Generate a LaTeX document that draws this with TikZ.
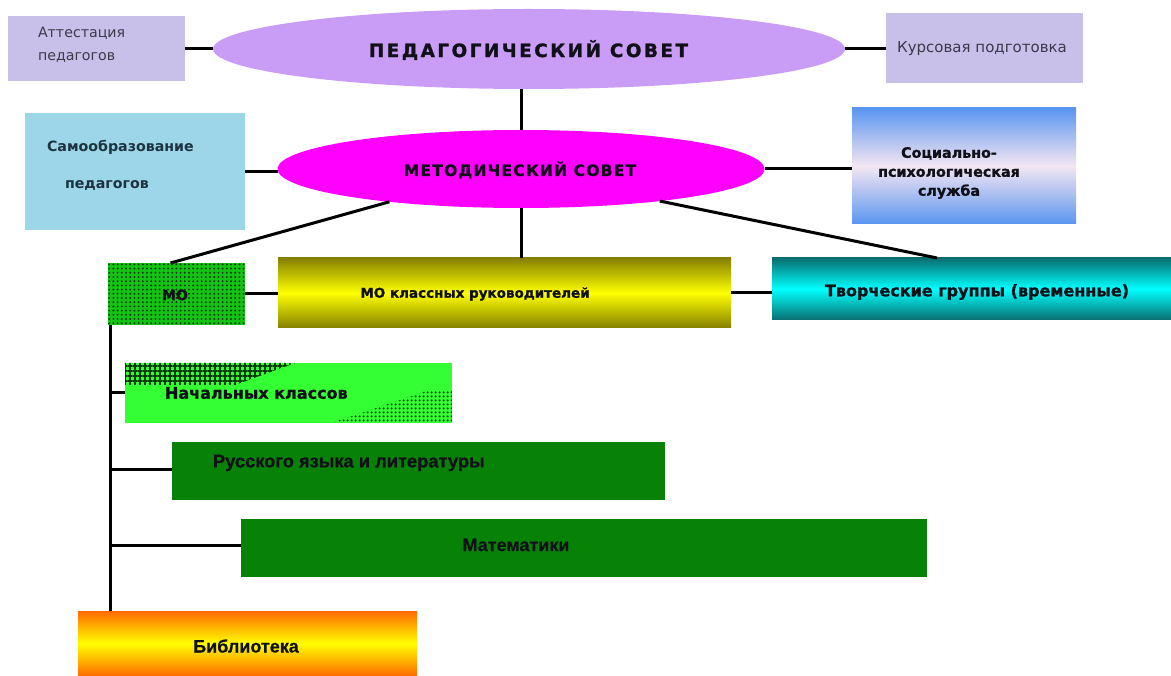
\documentclass[tikz,border=0pt]{standalone}
\usepackage{fontspec}
\setmainfont{DejaVu Sans}
\newfontfamily\libfont[BoldFeatures={FakeBold=0.6}]{Liberation Sans}
\newfontfamily\hvy[BoldFeatures={FakeBold=1.2}]{DejaVu Sans}
\newfontfamily\pedfont[LetterSpace=14,BoldFeatures={FakeBold=1.5}]{DejaVu Sans}
\newfontfamily\metfont[LetterSpace=8,BoldFeatures={FakeBold=1.5}]{DejaVu Sans}
\usetikzlibrary{shapes.geometric,patterns,patterns.meta,calc}
\definecolor{lav}{HTML}{C8C0E8}
\definecolor{pedc}{HTML}{C99CF6}
\definecolor{magc}{HTML}{FF00FF}
\definecolor{samoc}{HTML}{9DD6E8}
\definecolor{socblue}{HTML}{5A95F0}
\definecolor{socmid}{HTML}{F4E6F2}
\definecolor{oliv}{HTML}{858000}
\definecolor{yell}{HTML}{FFFF00}
\definecolor{tealc}{HTML}{0A6E70}
\definecolor{cyanc}{HTML}{00FFFF}
\definecolor{mog}{HTML}{14C414}
\definecolor{mod}{HTML}{063A06}
\definecolor{nachg}{HTML}{33FF33}
\definecolor{dg}{HTML}{078207}
\definecolor{orng}{HTML}{FF6A00}
\definecolor{txtgray}{HTML}{3A3A4A}
\definecolor{samot}{HTML}{1C3340}
\definecolor{ink}{HTML}{101018}
\begin{document}
\begin{tikzpicture}[x=1pt,y=-1pt,
  conn/.style={line width=3pt,black},
  box/.style={rectangle,inner sep=0pt,outer sep=0pt,draw=none},
  ell/.style={ellipse,inner sep=0pt,outer sep=0pt,draw=none},
  txt/.style={inner sep=0pt,outer sep=0pt,text=ink},
  dv/.style={font=\hvy\bfseries\fontsize{#1}{#1}\selectfont},
  lb/.style={font=\libfont\bfseries\fontsize{#1}{#1}\selectfont},
]
\useasboundingbox (0,0) rectangle (1171,676);

% ---------- shapes ----------
\node[box,fill=lav,minimum width=177pt,minimum height=65pt] (att) at (96,48.5) {};
\node[ell,fill=pedc,minimum width=632pt,minimum height=80pt] (ped) at (529,49) {};
\node[box,fill=lav,minimum width=197pt,minimum height=70pt] (kurs) at (984.5,48) {};

\node[box,fill=samoc,minimum width=220pt,minimum height=117pt] (samo) at (135,171.5) {};
\node[ell,fill=magc,minimum width=487pt,minimum height=78pt] (met) at (521,169) {};
\node[box,top color=socblue,bottom color=socblue,middle color=socmid,minimum width=224pt,minimum height=116pt] (soc) at (964,166) {};

\node[box,fill=mog,minimum width=137pt,minimum height=62pt,
      postaction={pattern={Dots[distance=4.2pt,radius=1.1pt]},pattern color=mod}] (mo) at (176.5,294) {};
\node[box,top color=oliv,bottom color=oliv,middle color=yell,minimum width=453pt,minimum height=70pt] (mocl) at (504.5,293) {};
\node[box,top color=tealc,bottom color=tealc,middle color=cyanc,minimum width=399pt,minimum height=62pt] (tvor) at (971.5,289) {};

\node[box,fill=nachg,minimum width=327pt,minimum height=60pt] (nach) at (288.5,393) {};
\fill[pattern={Hatch[distance=5pt,line width=1.6pt]},pattern color=mod]
  (nach.north west) -- ++(170pt,0pt) -- ++(-60pt,-22pt) -- ++(-110pt,0pt) -- cycle;
\fill[pattern={Dots[distance=4pt,radius=1.3pt]},pattern color=mod]
  (nach.south east) -- ++(0pt,32pt) -- ++(-26pt,0pt) -- ++(-95pt,-32pt) -- cycle;

\node[box,fill=dg,minimum width=493pt,minimum height=58pt] (rus) at (418.5,471) {};
\node[box,fill=dg,minimum width=686pt,minimum height=58pt] (mat) at (584,548) {};
\node[box,top color=orng,bottom color=orng,middle color=yell,minimum width=339pt,minimum height=65pt] (lib) at (247.5,643.5) {};

% ---------- connectors ----------
\draw[conn] (att.east) -- (att.east -| ped.west);
\draw[conn] (ped.east) -- (ped.east -| kurs.west);
\draw[conn] (met.north) -- (met.north |- ped.south);
\draw[conn] (samo.east) -- (samo.east -| met.west);
\draw[conn] (met.east) -- (met.east -| soc.west);
\draw[conn] (met.194) -- ($(mo.north)+(-6pt,0pt)$);
\draw[conn] (met.south) -- (met.south |- mocl.north);
\draw[conn] (met.347) -- ($(tvor.north west)+(165pt,0pt)$);
\draw[conn] (mo.east) -- (mo.east -| mocl.west);
\draw[conn] (mocl.east) -- (mocl.east -| tvor.west);
\coordinate (ttop) at ($(mo.south west)+(2pt,0pt)$);
\coordinate (tbot) at (ttop |- lib.north);
\coordinate (rusb) at ($(rus.west)+(0pt,2pt)$);
\coordinate (matb) at ($(mat.west)+(0pt,3pt)$);
\draw[conn] (ttop) -- (tbot);
\draw[conn] (ttop |- nach.west) -- (nach.west);
\draw[conn] (ttop |- rusb) -- (rusb);
\draw[conn] (ttop |- matb) -- (matb);

% ---------- texts ----------
\node[txt,text=txtgray,anchor=west,align=left,font=\fontsize{14.2}{23}\selectfont] (attT) at (38,44.5) {Аттестация\\педагогов};
\node[txt,font=\pedfont\bfseries\fontsize{18.3}{20}\selectfont] (pedT) at (528.5,50) {ПЕДАГОГИЧЕСКИЙ СОВЕТ};
\node[txt,text=txtgray,font=\fontsize{15}{18}\selectfont] (kursT) at (982,49) {Курсовая подготовка};

\node[txt,text=samot,anchor=west,align=left,font=\bfseries\fontsize{14.2}{37}\selectfont] (samoT) at (47,165) {Самообразование\\\hspace*{18pt}педагогов};
\node[txt,font=\metfont\bfseries\fontsize{15.5}{18}\selectfont] (metT) at (520,170) {МЕТОДИЧЕСКИЙ СОВЕТ};
\node[txt,align=center,font=\hvy\bfseries\fontsize{14.3}{19}\selectfont] (socT) at (949,173) {Социально-\\психологическая\\служба};

\node[txt,dv=14] (moT) at (175,295) {МО};
\node[txt,dv=13.5] (moclT) at (475,294) {МО классных руководителей};
\node[txt,dv=16] (tvorT) at (977,292) {Творческие группы (временные)};

\node[txt,anchor=west,dv=16] (nachT) at (165,393) {Начальных классов};
\node[txt,anchor=west,lb=18.3] (rusT) at (213,463) {Русского языка и литературы};
\node[txt,lb=18] (matT) at (516,545) {Математики};
\node[txt,lb=18] (libT) at (246,646) {Библиотека};
\end{tikzpicture}
\end{document}
